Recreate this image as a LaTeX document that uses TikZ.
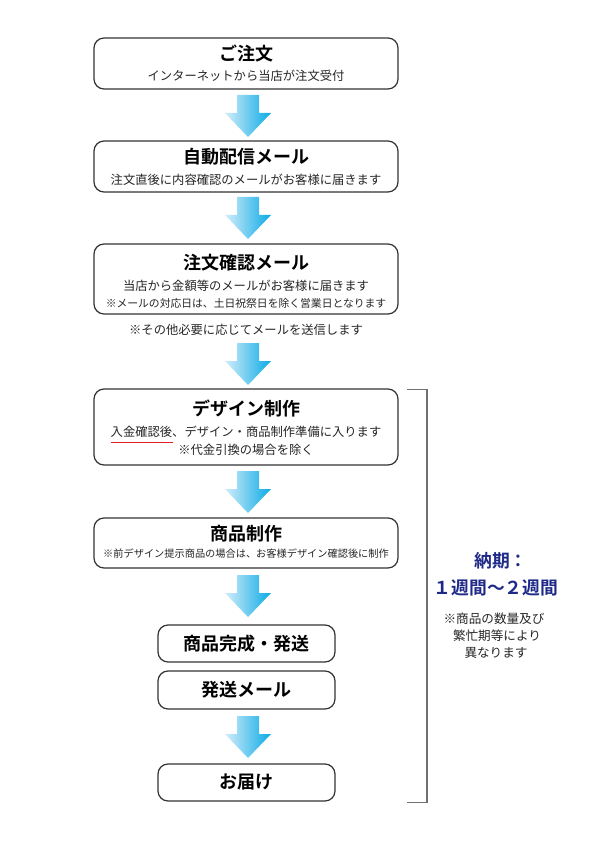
\documentclass[tikz,border=0pt]{standalone}
\usepackage{fontspec}
\usetikzlibrary{calc}
\setmainfont{Noto Sans CJK JP}[BoldFont={Noto Sans CJK JP Bold}]
\definecolor{boxline}{HTML}{333333}
\definecolor{arrowlight}{HTML}{D2EDFA}
\definecolor{arrowdark}{HTML}{0AAAE6}
\definecolor{navy}{HTML}{1F2A88}
\definecolor{brk}{HTML}{707070}
\definecolor{ulred}{HTML}{E0202A}
\newcommand{\flowarrow}[1]{%
  \shade[left color=arrowlight,right color=arrowdark]
    ($(#1)+(-11,0)$) -- ($(#1)+(11,0)$) -- ($(#1)+(11,18)$) -- ($(#1)+(23,18)$)
    -- ($(#1)+(0,42)$) -- ($(#1)+(-23,18)$) -- ($(#1)+(-11,18)$) -- cycle;}
\begin{document}
\begin{tikzpicture}[x=1pt,y=-1pt,
  stepbox/.style={draw=boxline,line width=1.2pt,rounded corners=10pt,fill=white,inner sep=0pt},
  ttl/.style={font=\bfseries\fontsize{18}{18}\selectfont,inner sep=0pt,anchor=center},
  sub/.style={font=\fontsize{12.3}{13}\selectfont,text=black!85,inner sep=0pt,anchor=center},
  small/.style={font=\fontsize{10.8}{11}\selectfont,text=black!85,inner sep=0pt,anchor=center},
  tiny/.style={font=\fontsize{10.2}{11}\selectfont,text=black!85,inner sep=0pt,anchor=center},
  note/.style={font=\fontsize{12.6}{13}\selectfont,text=black!85,inner sep=0pt,anchor=center},
  navytxt/.style={font=\bfseries\fontsize{17.8}{18}\selectfont,text=navy,inner sep=0pt,anchor=center}]
\useasboundingbox (0,0) rectangle (595,842);
% boxes
\node[stepbox,minimum width=304pt,minimum height=51pt] (b1) at (246,63.5) {};
\node[ttl] (t1) at (246,54) {ご注文};
\node[sub] (s1) at (246,76) {インターネットから当店が注文受付};

\node[stepbox,minimum width=304pt,minimum height=51pt] (b2) at (246,166.5) {};
\node[ttl] (t2) at (246,157) {自動配信メール};
\node[sub] (s2) at (246,180) {注文直後に内容確認のメールがお客様に届きます};

\node[stepbox,minimum width=304pt,minimum height=70pt] (b3) at (246,279) {};
\node[ttl] (t3) at (246,263) {注文確認メール};
\node[sub] (s3) at (246,286) {当店から金額等のメールがお客様に届きます};
\node[small] (s3b) at (246,303) {※メールの対応日は、土日祝祭日を除く営業日となります};
\node[sub] (n3) at (246,330) {※その他必要に応じてメールを送信します};

\node[stepbox,minimum width=304pt,minimum height=76pt] (b4) at (246,427) {};
\node[ttl] (t4) at (246,408) {デザイン制作};
\node[sub] (s4) at (246,432) {入金確認後、デザイン・商品制作準備に入ります};
\node[sub] (s4b) at (246,450) {※代金引換の場合を除く};
\draw[ulred,line width=0.8pt] ($(s4.west)+(0,10)$) -- ($(s4.west)+(62,10)$);

\node[stepbox,minimum width=304pt,minimum height=50pt] (b5) at (246,543) {};
\node[ttl] (t5) at (246,534) {商品制作};
\node[tiny] (s5) at (246,554) {※前デザイン提示商品の場合は、お客様デザイン確認後に制作};

\node[stepbox,minimum width=177pt,minimum height=37pt] (b6) at (246.5,643.5) {};
\node[ttl] (t6) at (246.5,644) {商品完成・発送};

\node[stepbox,minimum width=177pt,minimum height=38pt] (b7) at (246.5,690) {};
\node[ttl] (t7) at (246.5,690) {発送メール};

\node[stepbox,minimum width=177pt,minimum height=37pt] (b8) at (246.5,782.5) {};
\node[ttl] (t8) at (246.5,782) {お届け};

% arrows
\coordinate (a1) at (248,95);
\coordinate (a2) at (248,197);
\coordinate (a3) at (248,343);
\coordinate (a4) at (248,471);
\coordinate (a5) at (248,575);
\coordinate (a6) at (248,716);
\flowarrow{a1}\flowarrow{a2}\flowarrow{a3}\flowarrow{a4}\flowarrow{a5}\flowarrow{a6}

% bracket
\coordinate (k1) at (407,389.5);
\coordinate (k2) at (427,389.5);
\coordinate (k3) at (427,802.5);
\coordinate (k4) at (407,802.5);
\draw[brk,line width=1.4pt] (k1) -- (k2) -- (k3) -- (k4);

% right text
\node[navytxt] (r1) at (501,561) {納期：};
\node[navytxt] (r2) at (496,588) {１週間～２週間};
\node[note] (r3) at (494,619) {※商品の数量及び};
\node[note] (r4) at (497,636) {繁忙期等により};
\node[note] (r5) at (496,653) {異なります};
\end{tikzpicture}
\end{document}
